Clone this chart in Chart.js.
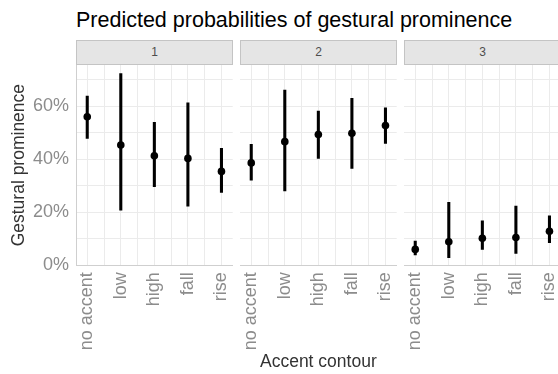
<!DOCTYPE html>
<html>
<head>
<meta charset="utf-8">
<script src="https://cdn.jsdelivr.net/npm/chart.js@4"></script>
<style>
  body { margin: 0; background: #fff; font-family: "Liberation Sans", Arial, sans-serif; }
  #wrap { position: relative; width: 558px; height: 374px; overflow: hidden; }
  canvas { position: absolute; left: 0; top: 0; }
  #title { position: absolute; left: 76px; top: 10px; font-size: 21.5px; line-height: 21px; color: #000; white-space: nowrap; }
  .strip { position: absolute; top: 40px; width: 157px; height: 25px; box-sizing: border-box;
           background: #e5e5e5; border: 1px solid #c4c4c4; text-align: center;
           font-size: 12px; line-height: 23px; color: #4d4d4d; }
</style>
</head>
<body>
<div id="wrap">
  <div id="title">Predicted probabilities of gestural prominence</div>
  <div class="strip" style="left:76px">1</div>
  <div class="strip" style="left:240px">2</div>
  <div class="strip" style="left:404px">3</div>
  <canvas id="p1" width="600" height="374"></canvas>
  <canvas id="p2" width="600" height="374"></canvas>
  <canvas id="p3" width="600" height="374"></canvas>
</div>
<script>
// categorías y valores
const categories = ['no accent', 'low', 'high', 'fall', 'rise'];
const panels = ['1', '2', '3'];

const fit1 = [0.560, 0.453, 0.413, 0.403, 0.354];
const lo1  = [0.478, 0.208, 0.296, 0.223, 0.275];
const hi1  = [0.638, 0.723, 0.539, 0.612, 0.441];

const fit2 = [0.386, 0.466, 0.493, 0.498, 0.527];
const lo2  = [0.321, 0.280, 0.403, 0.365, 0.459];
const hi2  = [0.456, 0.660, 0.581, 0.629, 0.594];

const fit3 = [0.060, 0.089, 0.102, 0.105, 0.128];
const lo3  = [0.039, 0.029, 0.060, 0.045, 0.085];
const hi3  = [0.0915, 0.237, 0.168, 0.223, 0.186];

const yGrid = [0, 0.1, 0.2, 0.3, 0.4, 0.5, 0.6, 0.7];
const yTickLabels = ['0%', '20%', '40%', '60%'];
const xGrid = [0, 0.5, 1, 1.5, 2, 2.5, 3, 3.5, 4];

const fontFam = '"Liberation Sans", Arial, sans-serif';
const gridColor = '#ebebeb';
const axisColor = '#cfcfcf';
const tickColor = '#8c8c8c';

function makePanel(id, fit, lo, hi, idx) {
    const ctx = document.getElementById(id).getContext('2d');
    const first = idx === 0;
    const middle = idx === 1;
    // padding de cada panel (izquierda, derecha) dentro del lienzo de 600px
    const pads = [[0, 600 - 232.7], [240, 600 - 396.7], [404, 600 - 560.7]];

    return new Chart(ctx, {
        type: 'bar',
        data: {
            datasets: [{
                type: 'bar',
                data: categories.map((c, i) => ({ x: i, y: [lo[i], hi[i]] })),
                backgroundColor: '#000',
                borderWidth: 0,
                barThickness: 2.4,
                order: 2
            }, {
                type: 'scatter',
                data: categories.map((c, i) => ({ x: i, y: fit[i] })),
                backgroundColor: '#000',
                borderColor: '#000',
                pointRadius: 3.8,
                borderWidth: 0,
                order: 1
            }]
        },
        options: {
            responsive: false,
            animation: false,
            events: [],
            layout: { padding: { left: pads[idx][0], right: pads[idx][1], top: 65, bottom: 0 } },
            plugins: { legend: { display: false }, tooltip: { enabled: false } },
            scales: {
                x: {
                    type: 'linear',
                    min: -0.335,
                    max: 4.335,
                    offset: false,
                    afterBuildTicks: s => { s.ticks = xGrid.map(v => ({ value: v })); },
                    afterFit: s => { s.height = 374 - 265.3; },
                    grid: { color: gridColor, lineWidth: 1, drawTicks: false, offset: false },
                    border: { display: true, color: axisColor, width: 1 },
                    ticks: {
                        autoSkip: false,
                        minRotation: 90,
                        maxRotation: 90,
                        padding: 7,
                        color: tickColor,
                        font: { family: fontFam, size: 18 },
                        callback: v => Number.isInteger(v) ? categories[v] : ''
                    },
                    title: {
                        display: middle,
                        text: 'Accent contour',
                        color: '#333',
                        font: { family: fontFam, size: 17.5 },
                        padding: { top: 0, bottom: 1 }
                    }
                },
                y: {
                    min: 0,
                    max: 0.755,
                    afterBuildTicks: s => { s.ticks = yGrid.map(v => ({ value: v })); },
                    afterFit: s => { s.width = first ? 76 : 0; },
                    grid: { color: gridColor, lineWidth: 1, drawTicks: false },
                    border: { display: first, color: axisColor, width: 1 },
                    ticks: {
                        display: first,
                        padding: 7,
                        color: tickColor,
                        font: { family: fontFam, size: 18 },
                        callback: (v, i) => i % 2 === 0 ? yTickLabels[i / 2] : ''
                    },
                    title: {
                        display: first,
                        text: 'Gestural prominence',
                        color: '#333',
                        font: { family: fontFam, size: 17.5 },
                        padding: { top: 9, bottom: 0 }
                    }
                }
            }
        }
    });
}

makePanel('p1', fit1, lo1, hi1, 0);
makePanel('p2', fit2, lo2, hi2, 1);
makePanel('p3', fit3, lo3, hi3, 2);
</script>
</body>
</html>
